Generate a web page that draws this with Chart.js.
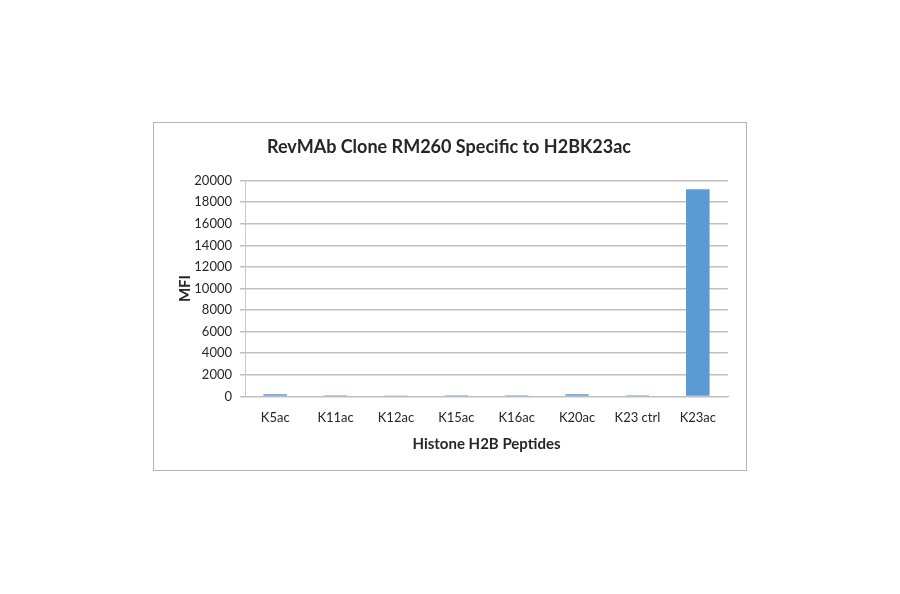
<!DOCTYPE html>
<html>
<head>
<meta charset="utf-8">
<script src="https://cdn.jsdelivr.net/npm/chart.js@4"></script>
<style>
  html, body { margin: 0; padding: 0; background: #fff; }
  #wrap { width: 900px; height: 594px; }
</style>
</head>
<body>
<div id="wrap"><canvas id="mfiChart"></canvas></div>
<script>
const peptides = ["K5ac", "K11ac", "K12ac", "K15ac", "K16ac", "K20ac", "K23 ctrl", "K23ac"];
const mfiValues = [210, 100, 20, 110, 100, 200, 110, 19200];
const yTicks = [0, 2000, 4000, 6000, 8000, 10000, 12000, 14000, 16000, 18000, 20000];

// draws the gray frame round the whole chart
const frame = {
  id: "frame",
  beforeDraw(chart) {
    const ctx = chart.ctx;
    ctx.save();
    ctx.strokeStyle = "#b4b4b4";
    ctx.lineWidth = 1;
    ctx.strokeRect(153.5, 122.5, 593, 348);
    ctx.restore();
  },
};

const font = "Lato, 'Open Sans', sans-serif";

new Chart(document.getElementById("mfiChart").getContext("2d"), {
  type: "bar",
  data: {
    labels: peptides,
    datasets: [
      {
        label: "MFI",
        data: mfiValues,
        backgroundColor: "#5b9bd5",
        borderWidth: 0,
        categoryPercentage: 1,
        barPercentage: 0.39,
      },
    ],
  },
  options: {
    responsive: true,
    maintainAspectRatio: false,
    animation: false,
    layout: { padding: { left: 170, right: 172, top: 0, bottom: 141 } },
    plugins: {
      legend: { display: false },
      tooltip: { enabled: false },
      title: {
        display: true,
        text: "RevMAb Clone RM260 Specific to H2BK23ac",
        color: "#262626",
        font: { family: font, size: 18, weight: "bold" },
        padding: { top: 136, bottom: 23 },
      },
    },
    scales: {
      x: {
        grid: { display: false, drawTicks: true, tickLength: 5, color: "#bfbfbf" },
        border: { color: "#bfbfbf", width: 1 },
        ticks: { color: "#262626", font: { family: font, size: 13 }, padding: 9, maxRotation: 0 },
        title: {
          display: true,
          text: "Histone H2B Peptides",
          color: "#262626",
          font: { family: font, size: 15, weight: "bold" },
          padding: { top: 0, bottom: 0 },
        },
      },
      y: {
        min: 0,
        max: 20000,
        afterBuildTicks(scale) {
          scale.ticks = yTicks.map((v) => ({ value: v }));
        },
        afterFit(scale) {
          scale.width = 75;
        },
        grid: { color: "#c0c0c0", lineWidth: 1.5, tickLength: 5 },
        border: { color: "#c8c8c8", width: 1 },
        ticks: {
          color: "#262626",
          font: { family: font, size: 13 },
          padding: 8,
          callback: (v) => String(v),
        },
        title: {
          display: true,
          text: "MFI",
          color: "#262626",
          font: { family: font, size: 15, weight: "bold" },
          padding: { top: 6, bottom: 0 },
        },
      },
    },
  },
  plugins: [frame],
});
</script>
</body>
</html>
